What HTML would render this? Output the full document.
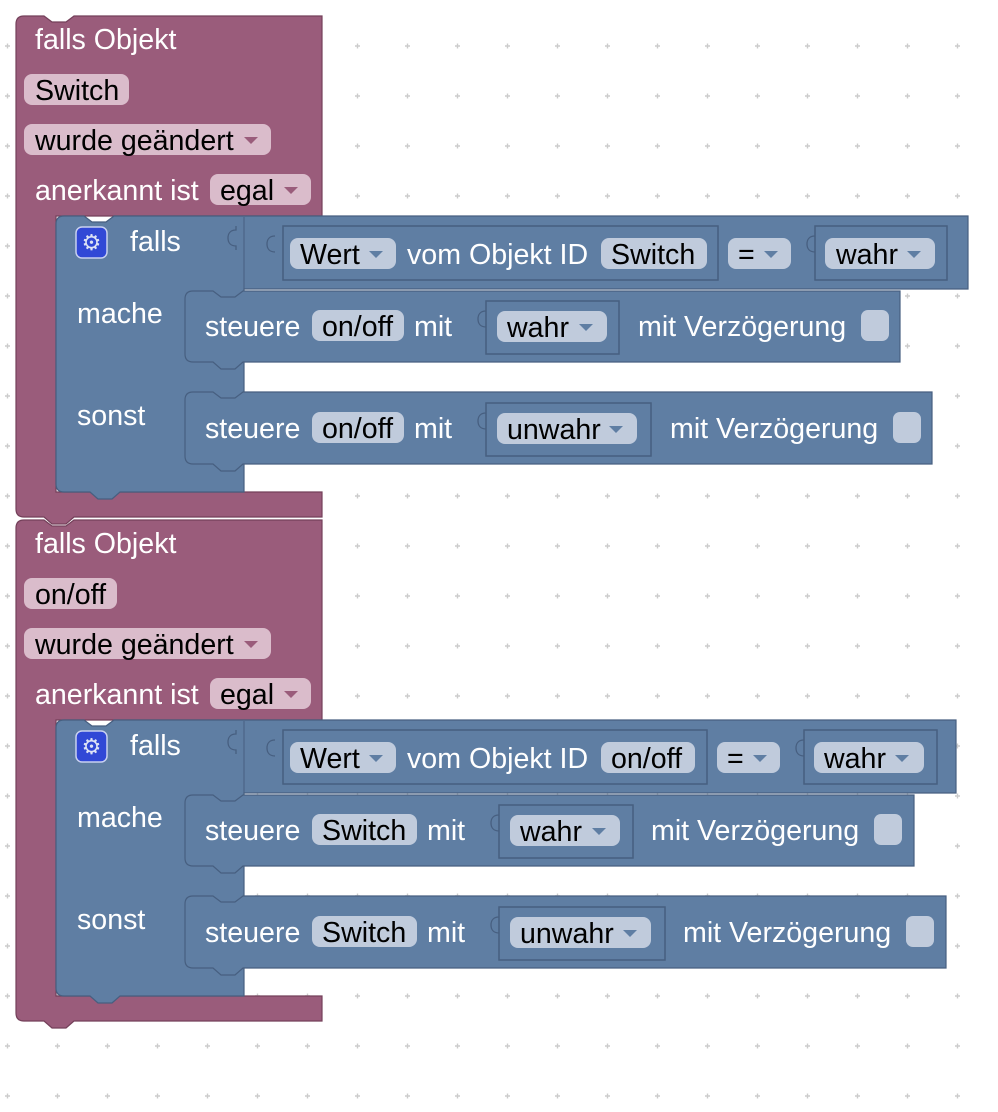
<!DOCTYPE html>
<html><head><meta charset="utf-8">
<style>
html,body{margin:0;padding:0;background:#fff;}
svg{display:block;}
text{font-family:"Liberation Sans",Arial,sans-serif;font-size:28.6px;}
.w{fill:#fff;}
.k{fill:#000;}
.pp{fill:#dabccb;}
.bp{fill:#c0cbdc;}
.pb{fill:#9a5c7b;stroke:#74405a;stroke-width:1.2;}
.bb{fill:#5f7ea3;stroke:#475f80;stroke-width:1.2;}
.vb{fill:#5f7ea3;stroke:#475f80;stroke-width:1.5;}
.tri{fill:#5f7ea3;}
.trp{fill:#9a5c7b;}
.tab{fill:none;stroke:#475f80;stroke-width:1.3;}
</style></head>
<body>
<svg width="998" height="1112" viewBox="0 0 998 1112" xmlns="http://www.w3.org/2000/svg">
<defs>
<pattern id="grid" x="0" y="0" width="50" height="50" patternUnits="userSpaceOnUse">
<path d="M5,46 h5 M7.5,43.5 v5" stroke="#cccccc" stroke-width="1.4"/>
</pattern>
</defs>
<rect x="0" y="0" width="998" height="1112" fill="url(#grid)"/>

<!-- ============ BLOCK 1 ============ -->
<g>
<path class="pb" d="M16,24 Q16,16 24,16 L44,16 L52,22 L66,22 L74,16 L322,16 L322,216 L56,216 L56,492 L322,492 L322,517 L74,517 L66,524 L52,524 L44,517 L24,517 Q16,517 16,509 Z"/>
<text class="w" x="35" y="49">falls Objekt</text>
<rect class="pp" x="24" y="74" width="105" height="31" rx="8"/>
<text class="k" x="35" y="100">Switch</text>
<rect class="pp" x="24" y="124" width="247" height="31" rx="8"/>
<text class="k" x="35" y="150">wurde geändert</text>
<path class="trp" d="M244,137 l14,0 l-7,7 z"/>
<text class="w" x="35" y="200">anerkannt ist</text>
<rect class="pp" x="210" y="174" width="101" height="31" rx="8"/>
<text class="k" x="220" y="200">egal</text>
<path class="trp" d="M284,187 l14,0 l-7,7 z"/>

<path class="bb" d="M56,224 Q56,216 64,216 L84,216 L92,222 L106,222 L114,216 L968,216 L968,289 L244,289 L244,492 L120,492 L112,499 L98,499 L90,492 L64,492 Q56,492 56,484 Z"/>
<rect x="76" y="227" width="31" height="31" rx="6" fill="#3148d6" stroke="#c8d0f0" stroke-width="1.5"/>
<text x="91.5" y="250" text-anchor="middle" style="font-size:22px" fill="#dde2f5">⚙</text>
<text class="w" x="130" y="251">falls</text>
<path class="tab" d="M236,226 v4 c-6,0 -8,4 -8,8 c0,4 2,8 8,8 v4"/>
<line x1="244" y1="217" x2="244" y2="289" stroke="#475f80" stroke-width="1"/>
<rect class="vb" x="283" y="226" width="435" height="54"/>
<path class="tab" d="M275,236 c-6,0 -8,4 -8,8 c0,4 2,8 8,8"/>
<rect class="bp" x="290" y="238" width="106" height="31" rx="8"/>
<text class="k" x="300" y="264">Wert</text>
<path class="tri" d="M369,251 l14,0 l-7,7 z"/>
<text class="w" x="407" y="264">vom Objekt ID</text>
<rect class="bp" x="601" y="238" width="106" height="31" rx="8"/>
<text class="k" x="611" y="264">Switch</text>
<rect class="bp" x="728" y="238" width="63" height="31" rx="8"/>
<text class="k" x="738" y="264">=</text>
<path class="tri" d="M764,251 l14,0 l-7,7 z"/>
<rect class="vb" x="815" y="226" width="132" height="54"/>
<path class="tab" d="M815,236 c-6,0 -8,4 -8,8 c0,4 2,8 8,8"/>
<rect class="bp" x="825" y="238" width="110" height="31" rx="8"/>
<text class="k" x="836" y="264">wahr</text>
<path class="tri" d="M907,251 l14,0 l-7,7 z"/>

<text class="w" x="77" y="323">mache</text>
<path class="bb" d="M185,299 Q185,291 193,291 L213,291 L221,297 L235,297 L243,291 L900,291 L900,362 L243,362 L235,369 L221,369 L213,362 L193,362 Q185,362 185,354 Z"/>
<text class="w" x="205" y="336">steuere</text>
<rect class="bp" x="312" y="310" width="92" height="31" rx="8"/>
<text class="k" x="322" y="336">on/off</text>
<text class="w" x="414" y="336">mit</text>
<rect class="vb" x="486" y="301" width="133" height="53"/>
<path class="tab" d="M486,311 c-6,0 -8,4 -8,8 c0,4 2,8 8,8"/>
<rect class="bp" x="497" y="311" width="110" height="31" rx="8"/>
<text class="k" x="507" y="337">wahr</text>
<path class="tri" d="M579,324 l14,0 l-7,7 z"/>
<text class="w" x="638" y="336">mit Verzögerung</text>
<rect class="bp" x="861" y="310" width="28" height="31" rx="7"/>

<text class="w" x="77" y="425">sonst</text>
<path class="bb" d="M185,400 Q185,392 193,392 L213,392 L221,398 L235,398 L243,392 L932,392 L932,464 L243,464 L235,471 L221,471 L213,464 L193,464 Q185,464 185,456 Z"/>
<text class="w" x="205" y="438">steuere</text>
<rect class="bp" x="312" y="412" width="92" height="31" rx="8"/>
<text class="k" x="322" y="438">on/off</text>
<text class="w" x="414" y="438">mit</text>
<rect class="vb" x="486" y="403" width="165" height="53"/>
<path class="tab" d="M486,413 c-6,0 -8,4 -8,8 c0,4 2,8 8,8"/>
<rect class="bp" x="497" y="413" width="140" height="31" rx="8"/>
<text class="k" x="507" y="439">unwahr</text>
<path class="tri" d="M609,426 l14,0 l-7,7 z"/>
<text class="w" x="670" y="438">mit Verzögerung</text>
<rect class="bp" x="893" y="412" width="28" height="31" rx="7"/>
</g>

<!-- ============ BLOCK 2 ============ -->
<g transform="translate(0,504)">
<path class="pb" d="M16,24 Q16,16 24,16 L44,16 L52,22 L66,22 L74,16 L322,16 L322,216 L56,216 L56,492 L322,492 L322,517 L74,517 L66,524 L52,524 L44,517 L24,517 Q16,517 16,509 Z"/>
<text class="w" x="35" y="49">falls Objekt</text>
<rect class="pp" x="24" y="74" width="93" height="31" rx="8"/>
<text class="k" x="35" y="100">on/off</text>
<rect class="pp" x="24" y="124" width="247" height="31" rx="8"/>
<text class="k" x="35" y="150">wurde geändert</text>
<path class="trp" d="M244,137 l14,0 l-7,7 z"/>
<text class="w" x="35" y="200">anerkannt ist</text>
<rect class="pp" x="210" y="174" width="101" height="31" rx="8"/>
<text class="k" x="220" y="200">egal</text>
<path class="trp" d="M284,187 l14,0 l-7,7 z"/>

<path class="bb" d="M56,224 Q56,216 64,216 L84,216 L92,222 L106,222 L114,216 L956,216 L956,289 L244,289 L244,492 L120,492 L112,499 L98,499 L90,492 L64,492 Q56,492 56,484 Z"/>
<rect x="76" y="227" width="31" height="31" rx="6" fill="#3148d6" stroke="#c8d0f0" stroke-width="1.5"/>
<text x="91.5" y="250" text-anchor="middle" style="font-size:22px" fill="#dde2f5">⚙</text>
<text class="w" x="130" y="251">falls</text>
<path class="tab" d="M236,226 v4 c-6,0 -8,4 -8,8 c0,4 2,8 8,8 v4"/>
<line x1="244" y1="217" x2="244" y2="289" stroke="#475f80" stroke-width="1"/>
<rect class="vb" x="283" y="226" width="424" height="54"/>
<path class="tab" d="M275,236 c-6,0 -8,4 -8,8 c0,4 2,8 8,8"/>
<rect class="bp" x="290" y="238" width="106" height="31" rx="8"/>
<text class="k" x="300" y="264">Wert</text>
<path class="tri" d="M369,251 l14,0 l-7,7 z"/>
<text class="w" x="407" y="264">vom Objekt ID</text>
<rect class="bp" x="601" y="238" width="94" height="31" rx="8"/>
<text class="k" x="611" y="264">on/off</text>
<rect class="bp" x="717" y="238" width="63" height="31" rx="8"/>
<text class="k" x="727" y="264">=</text>
<path class="tri" d="M753,251 l14,0 l-7,7 z"/>
<rect class="vb" x="804" y="226" width="133" height="54"/>
<path class="tab" d="M804,236 c-6,0 -8,4 -8,8 c0,4 2,8 8,8"/>
<rect class="bp" x="814" y="238" width="110" height="31" rx="8"/>
<text class="k" x="824" y="264">wahr</text>
<path class="tri" d="M895,251 l14,0 l-7,7 z"/>

<text class="w" x="77" y="323">mache</text>
<path class="bb" d="M185,299 Q185,291 193,291 L213,291 L221,297 L235,297 L243,291 L914,291 L914,362 L243,362 L235,369 L221,369 L213,362 L193,362 Q185,362 185,354 Z"/>
<text class="w" x="205" y="336">steuere</text>
<rect class="bp" x="312" y="310" width="105" height="31" rx="8"/>
<text class="k" x="322" y="336">Switch</text>
<text class="w" x="427" y="336">mit</text>
<rect class="vb" x="499" y="301" width="134" height="53"/>
<path class="tab" d="M499,311 c-6,0 -8,4 -8,8 c0,4 2,8 8,8"/>
<rect class="bp" x="510" y="311" width="110" height="31" rx="8"/>
<text class="k" x="520" y="337">wahr</text>
<path class="tri" d="M592,324 l14,0 l-7,7 z"/>
<text class="w" x="651" y="336">mit Verzögerung</text>
<rect class="bp" x="874" y="310" width="28" height="31" rx="7"/>

<text class="w" x="77" y="425">sonst</text>
<path class="bb" d="M185,400 Q185,392 193,392 L213,392 L221,398 L235,398 L243,392 L946,392 L946,464 L243,464 L235,471 L221,471 L213,464 L193,464 Q185,464 185,456 Z"/>
<text class="w" x="205" y="438">steuere</text>
<rect class="bp" x="312" y="412" width="105" height="31" rx="8"/>
<text class="k" x="322" y="438">Switch</text>
<text class="w" x="427" y="438">mit</text>
<rect class="vb" x="499" y="403" width="166" height="53"/>
<path class="tab" d="M499,413 c-6,0 -8,4 -8,8 c0,4 2,8 8,8"/>
<rect class="bp" x="510" y="413" width="141" height="31" rx="8"/>
<text class="k" x="520" y="439">unwahr</text>
<path class="tri" d="M623,426 l14,0 l-7,7 z"/>
<text class="w" x="683" y="438">mit Verzögerung</text>
<rect class="bp" x="906" y="412" width="28" height="31" rx="7"/>
</g>
</svg>
</body></html>
